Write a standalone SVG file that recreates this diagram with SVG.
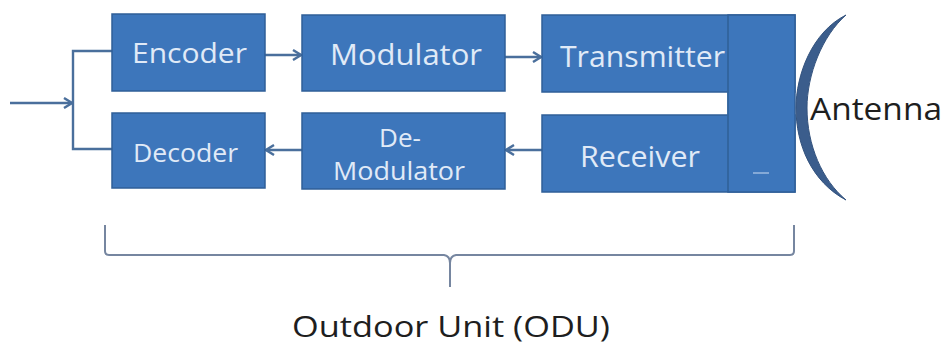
<svg xmlns="http://www.w3.org/2000/svg" width="945" height="347" viewBox="0 0 945 347">
  <defs>
    <marker id="arr" markerWidth="12" markerHeight="12" refX="10" refY="6" orient="auto" markerUnits="userSpaceOnUse">
      <polyline points="2,1 10,6 2,11" fill="none" stroke="#4a6f9c" stroke-width="2.4"/>
    </marker>
    <style>
      .box { fill: #3d76bb; stroke: #2f5f98; stroke-width: 1.5; }
      .lbl { font-family: "Open Sans", "Liberation Sans", sans-serif; fill: #e0eaf7; text-anchor: middle; }
      .conn { fill: none; stroke: #4a6f9c; stroke-width: 2.4; }
      .dark { font-family: "Open Sans", "Liberation Sans", sans-serif; fill: #1e1e1e; }
    </style>
  </defs>
  <rect width="945" height="347" fill="#ffffff"/>

  <g id="connectors">
    <line class="conn" x1="10" y1="103" x2="72" y2="103" marker-end="url(#arr)" stroke-width="3.2"/>
    <polyline class="conn" points="112,51 73,51 73,149 112,149"/>
    <line class="conn" x1="265" y1="55" x2="301" y2="55" marker-end="url(#arr)"/>
    <line class="conn" x1="505" y1="57" x2="541" y2="57" marker-end="url(#arr)"/>
    <line class="conn" x1="542" y1="150" x2="506" y2="150" marker-end="url(#arr)"/>
    <line class="conn" x1="302" y1="150" x2="266" y2="150" marker-end="url(#arr)"/>
  </g>

  <g id="encoder">
    <rect class="box" x="112" y="14" width="153" height="77"/>
    <text class="lbl" x="189.5" y="63" font-size="28" textLength="115" lengthAdjust="spacingAndGlyphs">Encoder</text>
  </g>
  <g id="modulator">
    <rect class="box" x="302" y="15" width="203" height="76"/>
    <text class="lbl" x="406" y="65" font-size="30" textLength="152" lengthAdjust="spacingAndGlyphs">Modulator</text>
  </g>
  <g id="decoder">
    <rect class="box" x="112" y="113" width="153" height="75"/>
    <text class="lbl" x="185.5" y="162" font-size="26" textLength="105" lengthAdjust="spacingAndGlyphs">Decoder</text>
  </g>
  <g id="demodulator">
    <rect class="box" x="302" y="113" width="203" height="76"/>
    <text class="lbl" x="400" y="147" font-size="26">De-</text>
    <text class="lbl" x="399" y="180" font-size="26" textLength="132" lengthAdjust="spacingAndGlyphs">Modulator</text>
  </g>
  <g id="transceiver">
    <rect class="box" x="542" y="15" width="253" height="77"/>
    <rect class="box" x="542" y="115" width="253" height="77"/>
    <rect class="box" x="728" y="15" width="67" height="177"/>
    <rect x="543" y="16" width="184" height="75" fill="#3d76bb"/>
    <rect x="543" y="116" width="184" height="75" fill="#3d76bb"/>
    <line x1="728" y1="16" x2="728" y2="191" stroke="#33669f" stroke-width="1.5"/>
    <line x1="753" y1="173" x2="769" y2="173" stroke="#9dbbe0" stroke-width="1.5"/>
    <text class="lbl" x="642.5" y="67" font-size="30" textLength="165" lengthAdjust="spacingAndGlyphs">Transmitter</text>
    <text class="lbl" x="640" y="167" font-size="29" textLength="120" lengthAdjust="spacingAndGlyphs">Receiver</text>
  </g>
  <g id="antenna">
    <path d="M846,15 C812,32 796,75 796,108 C796,145 812,182 846,200 C822,180 807,145 807,108 C807,75 822,36 846,15 Z" fill="#3b5d8c" stroke="#34537e" stroke-width="1"/>
    <text class="dark" x="810" y="120" font-size="31" textLength="132" lengthAdjust="spacingAndGlyphs">Antenna</text>
  </g>
  <g id="odu">
    <path d="M105,225 L105,251 Q105,255 109,255 L444,255 Q450,256 450,263 L450,287 M450,263 Q450,256 456,255 L790,255 Q794,255 794,251 L794,225" fill="none" stroke="#7686a0" stroke-width="2"/>
    <text class="dark" x="451" y="337" font-size="30" text-anchor="middle" textLength="318" lengthAdjust="spacingAndGlyphs" fill="#2a2a2a">Outdoor Unit (ODU)</text>
  </g>
</svg>
